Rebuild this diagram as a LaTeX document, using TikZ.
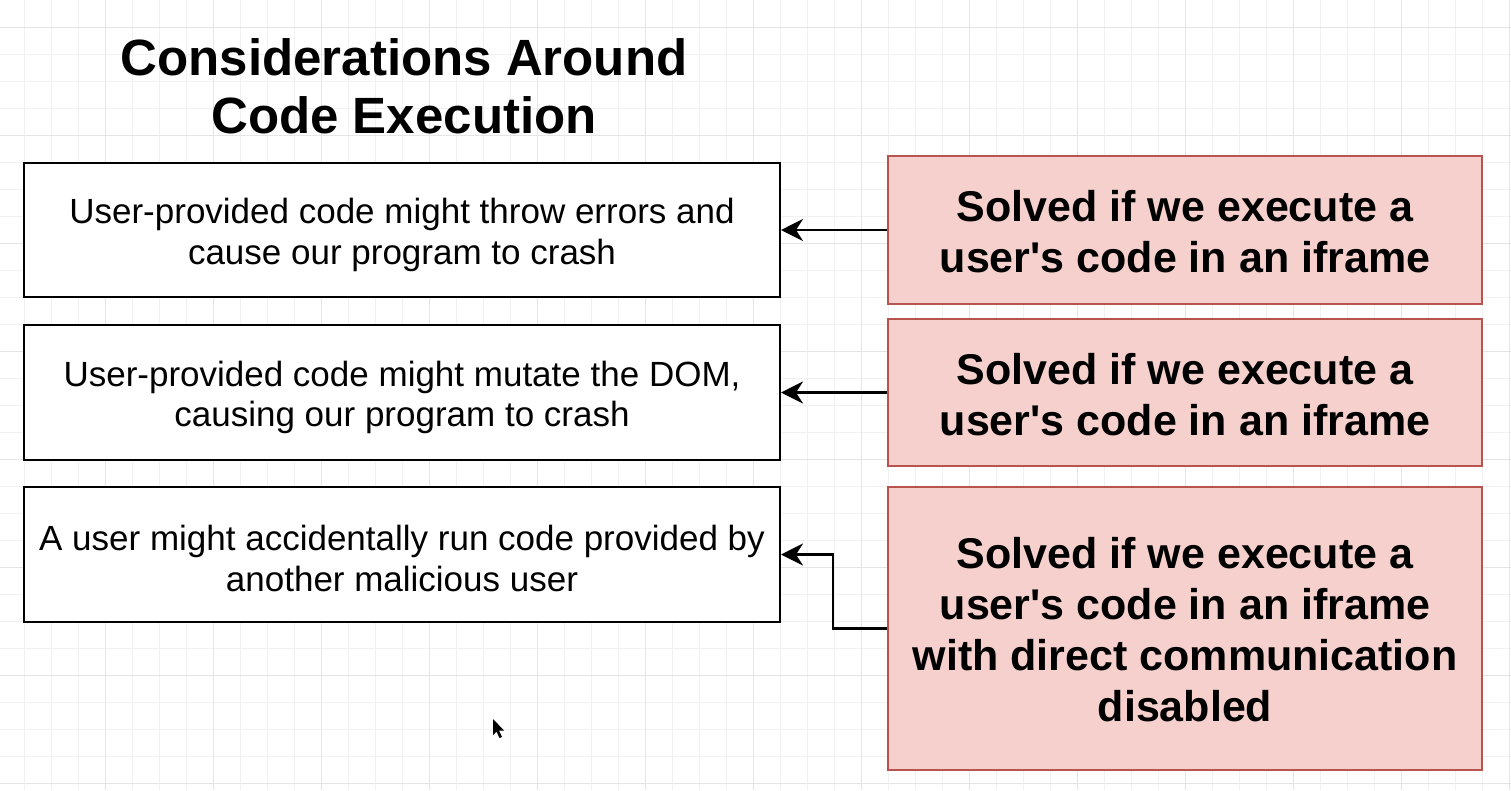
\documentclass[tikz,border=0pt]{standalone}
\usepackage{fontspec}
\setmainfont{Liberation Sans}
\usetikzlibrary{arrows.meta}
\definecolor{gridminor}{HTML}{F1F1F1}
\definecolor{gridmajor}{HTML}{E5E5E5}
\definecolor{redfill}{HTML}{F5D0CC}
\definecolor{redline}{HTML}{B85450}
\begin{document}
\begin{tikzpicture}[x=1pt,y=-1pt,
  leftbox/.style={draw=black, fill=white, line width=2pt, inner sep=0pt,
    minimum width=756pt},
  lefttext/.style={inner sep=0pt, align=center,
    font=\fontsize{35}{40.5}\selectfont},
  rightbox/.style={draw=redline, fill=redfill, line width=2.5pt, inner sep=0pt,
    minimum width=594pt},
  righttext/.style={inner sep=0pt, align=center,
    font=\fontsize{43}{51}\selectfont\bfseries},
  arr/.style={line width=2.5pt, black, -{Stealth[length=22pt,width=22pt,inset=7pt]}}]
\useasboundingbox (0,0) rectangle (1511,790);
\fill[white] (0,0) rectangle (1511,790);
% grid
\foreach \i in {0,...,55} \draw[gridminor, line width=1pt] ({24+27*\i},0) -- ({24+27*\i},790);
\foreach \j in {1,...,29} \draw[gridminor, line width=1pt] (0,{27*\j}) -- (1511,{27*\j});
\foreach \i in {0,...,13} \draw[gridmajor, line width=1pt] ({105+108*\i},0) -- ({105+108*\i},790);
\foreach \j in {0,...,7} \draw[gridmajor, line width=1pt] (0,{27+108*\j}) -- (1511,{27+108*\j});
% title
\node[font=\fontsize{51}{58}\selectfont\bfseries, align=center] (title) at (404,86)
  {Considerations Around\\Code Execution};
% left boxes
\node[leftbox, minimum height=134pt] (l1) at (402,230) {};
\node[leftbox, minimum height=135pt] (l2) at (402,392.5) {};
\node[leftbox, minimum height=135pt] (l3) at (402,554.5) {};
\node[lefttext] (t1) at ([yshift=-5pt]l1.center)
  {User-provided code might throw errors and\\cause our program to crash};
\node[lefttext] (t2) at ([yshift=-5pt]l2.center)
  {User-provided code might mutate the DOM,\\causing our program to crash};
\node[lefttext] (t3) at ([yshift=-4pt]l3.center)
  {A user might accidentally run code provided by\\another malicious user};
% right boxes
\node[rightbox, minimum height=148pt] (r1) at (1185,230) {};
\node[rightbox, minimum height=147pt] (r2) at (1185,392.5) {};
\node[rightbox, minimum height=283pt] (r3) at (1185,628.5) {};
\node[righttext] (s1) at ([yshift=-2pt]r1.center)
  {Solved if we execute a\\user\textquotesingle s code in an iframe};
\node[righttext] (s2) at ([yshift=-2pt]r2.center)
  {Solved if we execute a\\user\textquotesingle s code in an iframe};
\node[righttext] (s3) at ([yshift=-1pt]r3.center)
  {Solved if we execute a\\user\textquotesingle s code in an iframe\\with direct communication\\disabled};
% connectors
\draw[arr] (r1.west) -- (l1.east);
\draw[arr] (r2.west) -- (l2.east);
\draw[arr] (r3.west) -- ++(-54,0) |- (l3.east);
% mouse cursor
\fill[black] (493,719) -- (493,735) -- (496.5,731.5) -- (499.5,738) -- (502,737) -- (499,730.5) -- (504,730.5) -- cycle;
\end{tikzpicture}
\end{document}
